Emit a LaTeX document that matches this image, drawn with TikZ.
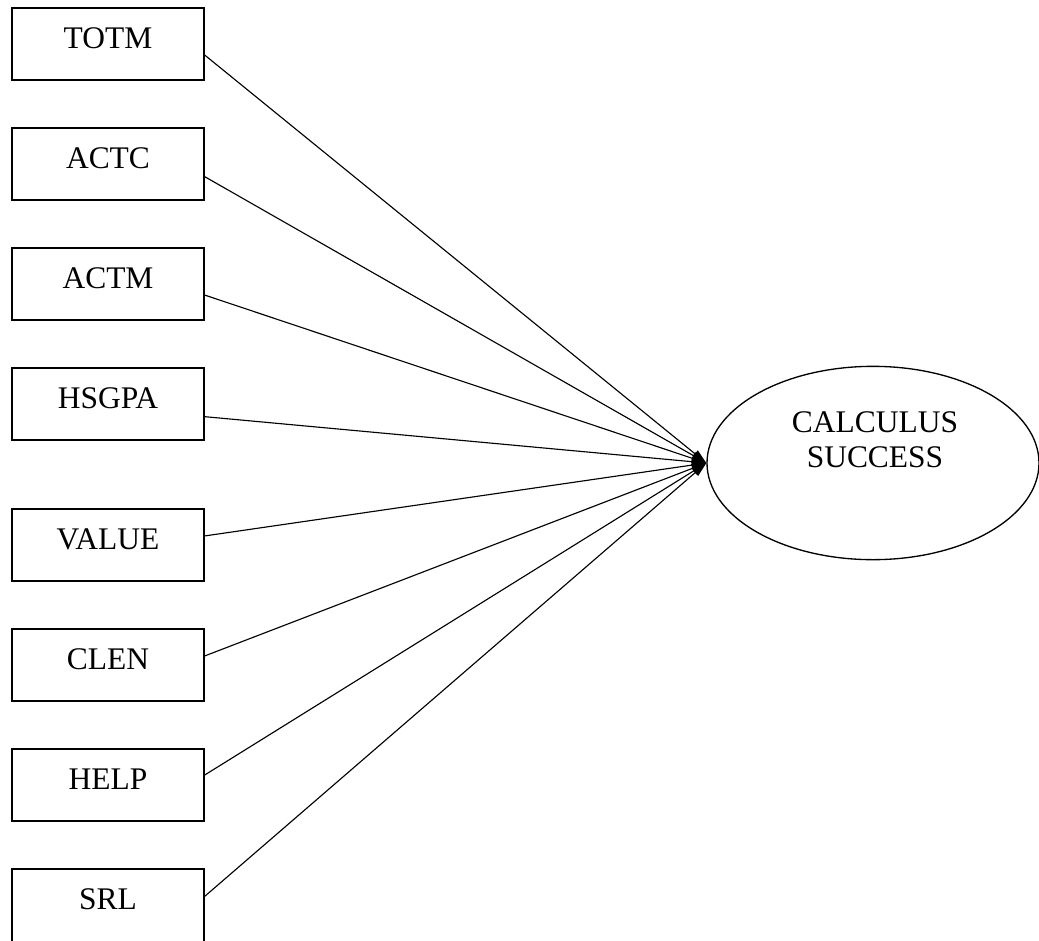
\documentclass[tikz,border=0pt]{standalone}
\usepackage{fontspec}
\setmainfont{Liberation Serif}
\usetikzlibrary{arrows.meta,shapes.geometric}
\tikzset{
  box/.style={draw, line width=1.1pt, rectangle, minimum width=144pt, minimum height=54pt, inner sep=0pt},
  lbl/.style={anchor=base, inner sep=0pt, font=\fontsize{23.6}{26.3}\selectfont},
  oval/.style={draw, line width=1pt, ellipse, minimum width=249pt, minimum height=145pt, inner sep=0pt},
  path/.style={line width=0.85pt, -{Triangle[length=11pt,width=6.5pt]}}
}
\begin{document}
\begin{tikzpicture}[x=0.75pt, y=-0.75pt]
\useasboundingbox (0,0) rectangle (1039,940);
\clip (0,0) rectangle (1039,940);

% predictor boxes (x from 12 to 204, 72 px tall)
\node[box] (totm)  at (108,44)  {};
\node[box] (actc)  at (108,164) {};
\node[box] (actm)  at (108,284) {};
\node[box] (hsgpa) at (108,404) {};
\node[box] (value) at (108,545) {};
\node[box] (clen)  at (108,665) {};
\node[box] (help)  at (108,785) {};
\node[box, minimum height=60pt] (srl) at (108,909) {};

\node[lbl] (totm-t)  at (108,48)  {TOTM};
\node[lbl] (actc-t)  at (108,168) {ACTC};
\node[lbl] (actm-t)  at (108,288) {ACTM};
\node[lbl] (hsgpa-t) at (108,408) {HSGPA};
\node[lbl] (value-t) at (108,549) {VALUE};
\node[lbl] (clen-t)  at (108,669) {CLEN};
\node[lbl] (help-t)  at (108,789) {HELP};
\node[lbl] (srl-t)   at (108,909) {SRL};

% outcome
\node[oval] (cs) at (873,463) {};
\node[lbl, align=center, anchor=center] (cs-t) at (875,440) {CALCULUS\\SUCCESS};

% paths
\draw[path] ([yshift=-8.3pt]totm.east)  -- (cs.west);
\draw[path] ([yshift=-9.5pt]actc.east)  -- (cs.west);
\draw[path] ([yshift=-8.3pt]actm.east)  -- (cs.west);
\draw[path] ([yshift=-9.5pt]hsgpa.east) -- (cs.west);
\draw[path] ([yshift=6.8pt]value.east)  -- (cs.west);
\draw[path] ([yshift=6.8pt]clen.east)   -- (cs.west);
\draw[path] ([yshift=7.5pt]help.east)   -- (cs.west);
\draw[path] ([yshift=9.5pt]srl.east)    -- (cs.west);
\end{tikzpicture}
\end{document}
